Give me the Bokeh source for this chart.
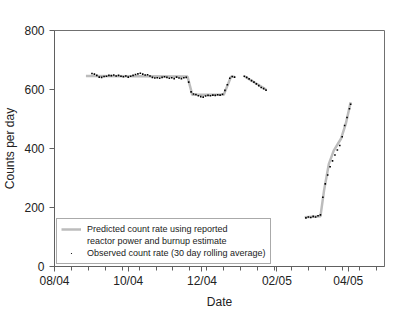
import pandas as pd
from datetime import datetime
from bokeh.plotting import figure
from bokeh.models import Range1d, FixedTicker, DatetimeTickFormatter, Legend, LegendItem
from bokeh.embed import file_html
from bokeh.resources import INLINE

# ---- data ----
pred_dates_a = ["2004-08-27", "2004-11-19", "2004-11-23", "2004-12-19", "2004-12-25", "2004-12-28"]
pred_vals_a = [646, 644, 582, 582, 643, 643]
pred_dates_b = ["2005-01-05", "2005-01-23"]
pred_vals_b = [645, 600]
pred_dates_c = ["2005-02-24", "2005-03-09", "2005-03-12", "2005-03-16", "2005-03-20", "2005-03-26", "2005-03-30", "2005-04-03"]
pred_vals_c = [167, 170, 258, 348, 393, 433, 484, 557]

obs_dates = [
    "2004-09-01", "2004-09-03", "2004-09-05", "2004-09-07", "2004-09-09", "2004-09-11", "2004-09-13",
    "2004-09-15", "2004-09-17", "2004-09-19", "2004-09-21", "2004-09-23", "2004-09-25", "2004-09-27",
    "2004-09-29", "2004-10-01", "2004-10-03", "2004-10-05", "2004-10-07", "2004-10-09", "2004-10-11",
    "2004-10-13", "2004-10-15", "2004-10-17", "2004-10-19", "2004-10-21", "2004-10-23", "2004-10-25",
    "2004-10-27", "2004-10-29", "2004-10-31", "2004-11-02", "2004-11-04", "2004-11-06", "2004-11-08",
    "2004-11-10", "2004-11-12", "2004-11-14", "2004-11-16", "2004-11-18", "2004-11-20", "2004-11-22",
    "2004-11-24", "2004-11-26", "2004-11-28", "2004-11-30", "2004-12-02", "2004-12-04", "2004-12-06",
    "2004-12-08", "2004-12-10", "2004-12-12", "2004-12-14", "2004-12-16", "2004-12-18", "2004-12-20",
    "2004-12-22", "2004-12-24", "2004-12-26", "2004-12-28",
    "2005-01-05", "2005-01-07", "2005-01-09", "2005-01-11", "2005-01-13", "2005-01-15", "2005-01-17",
    "2005-01-19", "2005-01-21", "2005-01-23",
    "2005-02-25", "2005-02-27", "2005-03-01", "2005-03-03", "2005-03-05", "2005-03-07", "2005-03-09",
    "2005-03-11", "2005-03-13", "2005-03-15", "2005-03-17", "2005-03-19", "2005-03-21", "2005-03-23",
    "2005-03-25", "2005-03-27", "2005-03-29", "2005-03-31", "2005-04-02", "2005-04-03",
]
obs_vals = [
    654, 652, 648, 642, 641, 644, 645,
    648, 647, 649, 646, 648, 645, 643,
    646, 642, 645, 648, 651, 653, 655,
    652, 649, 650, 646, 641, 639, 640,
    638, 641, 643, 641, 638, 640, 637,
    642, 639, 637, 640, 641, 625, 592,
    585, 583, 579, 576, 574, 578, 580,
    579, 581, 580, 582, 581, 584, 597,
    616, 638, 644, 642,
    645, 641, 636, 630, 625, 619, 613,
    607, 603, 598,
    165, 168, 166, 170, 168, 172, 175,
    235, 280, 310, 338, 358, 378, 395,
    410, 440, 478, 505, 535, 550,
]

y_ticks = [0, 200, 400, 600, 800]
x_major_ticks = ["2004-08-01", "2004-10-01", "2004-12-01", "2005-02-01", "2005-04-01"]

# ---- figure ----
p = figure(width=410, height=311, output_backend="svg", toolbar_location=None,
           x_axis_type="datetime",
           x_range=Range1d(datetime(2004, 8, 1), datetime(2005, 5, 1)),
           y_range=Range1d(0, 800),
           min_border_left=53, min_border_right=26, min_border_top=30, min_border_bottom=45)
p.background_fill_color = "white"
p.border_fill_color = "white"
p.outline_line_color = "#707070"
p.xgrid.visible = False
p.ygrid.visible = False

def ts(s):
    return pd.Timestamp(s)

gray = "#bcbcbc"
r_pred = None
for d, v in [(pred_dates_a, pred_vals_a), (pred_dates_b, pred_vals_b), (pred_dates_c, pred_vals_c)]:
    r = p.line([ts(x) for x in d], v, line_color=gray, line_width=2.5)
    if r_pred is None:
        r_pred = r

r_obs = p.scatter([ts(x) for x in obs_dates], obs_vals, marker="square", size=1.6,
                  fill_color="black", line_color=None)
r_dummy = p.line([ts("2004-09-01")], [0], line_alpha=0)
r_obs_leg = p.scatter([ts("2004-09-01")], [-100], marker="dot", size=6,
                      line_color="black", fill_color="black", line_width=1)

legend = Legend(items=[
    LegendItem(label="Predicted count rate using reported", renderers=[r_pred]),
    LegendItem(label="reactor power and burnup estimate", renderers=[r_dummy]),
    LegendItem(label="Observed count rate (30 day rolling average)", renderers=[r_obs_leg]),
], location="bottom_left")
legend.margin = 2
legend.padding = 4
legend.spacing = 0
legend.glyph_width = 20
legend.glyph_height = 12
legend.label_height = 12
legend.label_standoff = 6
legend.label_text_font = "Liberation Sans"
legend.label_text_font_size = "9px"
legend.label_text_color = "#222222"
legend.border_line_color = "#555555"
legend.border_line_width = 1
legend.background_fill_color = "white"
p.add_layout(legend)

# axes
ms = lambda s: pd.Timestamp(s).value / 1e6
start = pd.Timestamp("2004-08-01")
minor = [(start + pd.Timedelta(days=14 * i)).value / 1e6 for i in range(20)]
p.xaxis.ticker = FixedTicker(ticks=[ms(x) for x in x_major_ticks], minor_ticks=minor)
p.xaxis.formatter = DatetimeTickFormatter(days="%m/%y", months="%m/%y", years="%m/%y",
                                          hours="%m/%y", context=None)
p.yaxis.ticker = FixedTicker(ticks=y_ticks)

for ax in (p.xaxis, p.yaxis):
    ax.axis_line_color = "#606060"
    ax.major_tick_line_color = "#606060"
    ax.minor_tick_line_color = "#606060"
    ax.major_tick_in = 0
    ax.major_tick_out = 5
    ax.minor_tick_in = 0
    ax.minor_tick_out = 4
    ax.major_label_text_font = "Liberation Sans"
    ax.major_label_text_font_size = "12px"
    ax.major_label_text_color = "#222222"
    ax.axis_label_text_font = "Liberation Sans"
    ax.axis_label_text_font_size = "12px"
    ax.axis_label_text_font_style = "normal"
    ax.axis_label_text_color = "#222222"
p.yaxis.minor_tick_line_color = None

p.xaxis.axis_label = "Date"
p.yaxis.axis_label = "Counts per day"
p.xaxis.major_label_standoff = 2
p.xaxis.axis_label_standoff = 4
p.yaxis.major_label_standoff = 5
p.yaxis.axis_label_standoff = 4

open("out.html", "w").write(file_html(p, INLINE))
